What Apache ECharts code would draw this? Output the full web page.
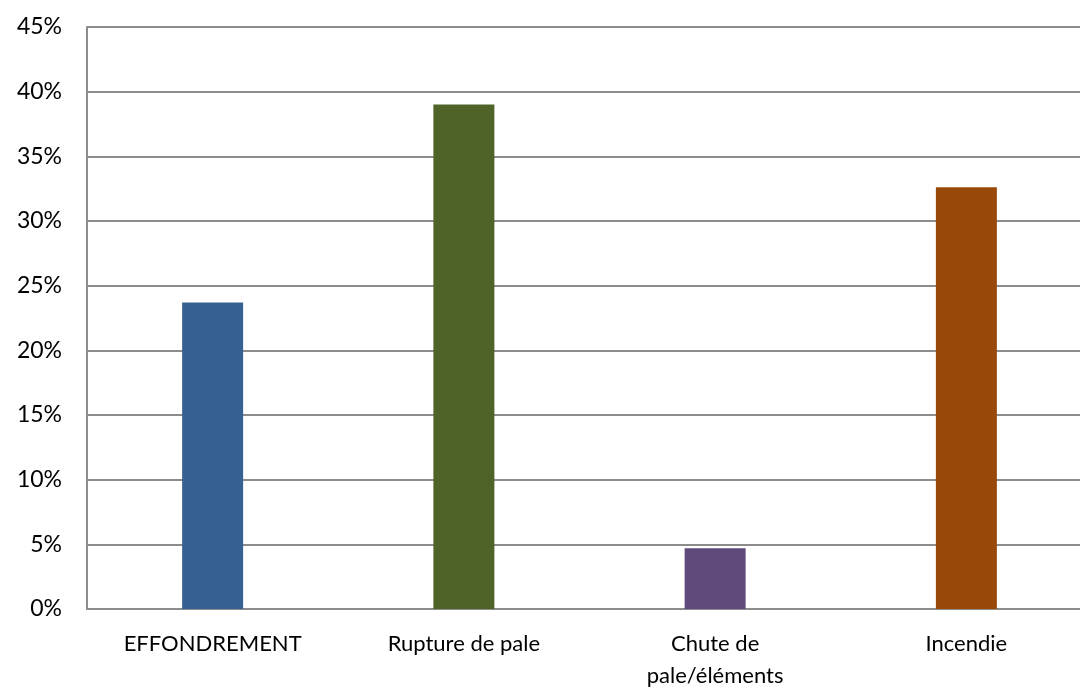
<!DOCTYPE html>
<html>
<head>
<meta charset="utf-8">
<script src="https://cdn.jsdelivr.net/npm/echarts@6/dist/echarts.min.js"></script>
<style>
  html, body { margin: 0; padding: 0; background: #fff; overflow: hidden; }
  #chart { width: 1080px; height: 687px; }
</style>
</head>
<body>
<div id="chart"></div>
<script>
const categories = ['EFFONDREMENT', 'Rupture de pale', 'Chute de\npale/éléments', 'Incendie']
const values = [23.7, 39.0, 4.7, 32.6]
const barColors = ['#376092', '#4f6228', '#604a7b', '#984807']

const chart = echarts.init(document.getElementById('chart'))

// plot area runs a little past the right edge in the source image
const option = {
  animation: false,
  textStyle: { fontFamily: 'Lato, "Open Sans", sans-serif' },
  grid: { left: 87, right: -12, top: 27, bottom: 78, containLabel: false, outerBoundsMode: 'none' },
  xAxis: {
    type: 'category',
    data: categories,
    axisLine: { lineStyle: { color: '#8c8c8c', width: 2 } },
    axisTick: { show: false },
    axisLabel: { color: '#000', fontSize: 22, margin: 19, lineHeight: 32, interval: 0 },
  },
  yAxis: {
    type: 'value',
    min: 0,
    max: 45,
    interval: 5,
    axisLine: { show: true, lineStyle: { color: '#8c8c8c', width: 2 } },
    axisTick: { show: false },
    splitLine: { lineStyle: { color: '#8c8c8c', width: 2 } },
    axisLabel: { color: '#000', fontSize: 23, margin: 25, formatter: '{value}%' },
  },
  series: [
    {
      type: 'bar',
      barWidth: 61,
      data: values.map((v, i) => ({ value: v, itemStyle: { color: barColors[i] } })),
    },
  ],
}
chart.setOption(option)
</script>
</body>
</html>
